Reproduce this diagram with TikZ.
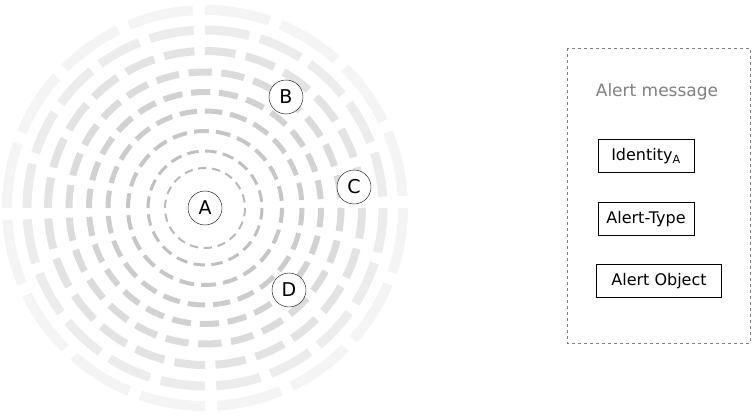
\documentclass[tikz,border=0pt]{standalone}
\usepackage{fontspec}
\setmainfont{DejaVu Sans}
\begin{document}
\begin{tikzpicture}[x=1pt,y=-1pt,
    peer/.style={circle,draw,thin,fill=white,minimum size=34pt,inner sep=0pt,font=\fontsize{19}{20}\selectfont},
    field/.style={draw,thin,minimum height=33pt,inner sep=3pt,font=\fontsize{16}{18}\selectfont}]
  \useasboundingbox (0,0) rectangle (752,417);
  % rings of reach
  \foreach \r/\w/\c/\n in {40/2/55/18, 57/3/50/20, 77/4/45/22, 97/5/40/24, 116/6/35/26,
                           136/7/28/26, 157/8/22/24, 178/9/15/20, 198/10/9/16}{
    \pgfmathsetmacro{\seg}{2*pi*\r/\n}
    \pgfmathsetmacro{\gap}{4+0.8*\w}
    \pgfmathsetmacro{\on}{\seg-\gap}
    \draw[line width=\w pt,gray!\c,dash pattern=on \on pt off \gap pt] (205,208) circle[radius=\r];
  }
  \node[peer] (A) at (205,208) {A};
  \node[peer] (B) at (286,97)  {B};
  \node[peer] (C) at (354,187) {C};
  \node[peer] (D) at (289,290) {D};
  % message
  \draw[gray,dashed,thin] (567,48) rectangle (750,343);
  \node[text=gray,font=\fontsize{17}{20}\selectfont] (title) at (657,92) {Alert message};
  \node[field,minimum width=96pt] (id) at (646,156) {Identity\textsubscript{A}};
  \node[field,minimum width=96pt] (type) at (646,219) {Alert-Type};
  \node[field,minimum width=125pt] (obj) at (659,281) {Alert Object};
\end{tikzpicture}
\end{document}
